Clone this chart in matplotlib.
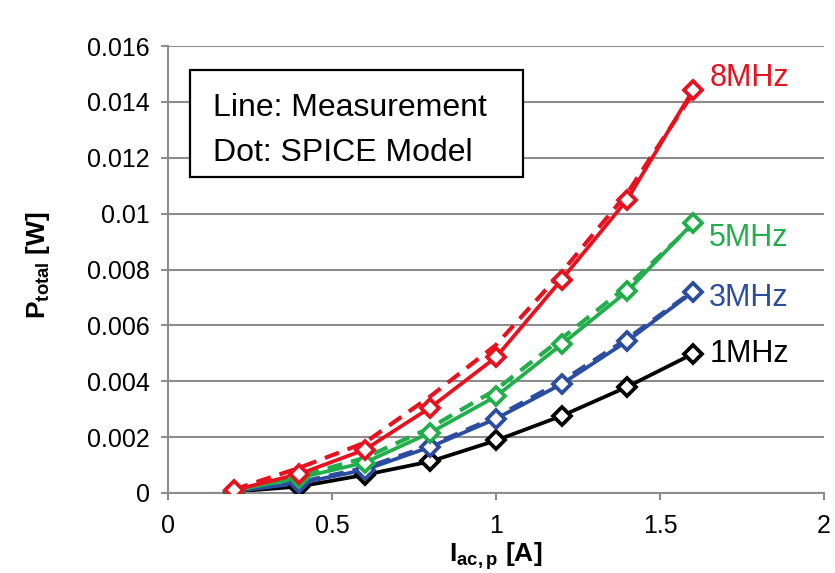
import matplotlib
matplotlib.use("Agg")
import matplotlib.pyplot as plt
from matplotlib.patches import Rectangle

plt.rcParams['font.family'] = ['Liberation Sans', 'DejaVu Sans']
plt.rcParams['mathtext.fontset'] = 'custom'
plt.rcParams['mathtext.rm'] = 'Liberation Sans'
plt.rcParams['mathtext.bf'] = 'Liberation Sans:bold'

# ---- data ----
current = [0.2, 0.4, 0.6, 0.8, 1.0, 1.2, 1.4, 1.6]
freq_labels = ["1MHz", "3MHz", "5MHz", "8MHz"]
# SPICE model (dots, joined by solid line)
spice_1 = [0.00005, 0.00023, 0.00065, 0.00113, 0.00188, 0.00276, 0.00380, 0.00498]
spice_3 = [0.00006, 0.00035, 0.00083, 0.00165, 0.00266, 0.00390, 0.00544, 0.00719]
spice_5 = [0.00008, 0.00054, 0.00109, 0.00216, 0.00346, 0.00532, 0.00722, 0.00966]
spice_8 = [0.00010, 0.00068, 0.00155, 0.00306, 0.00486, 0.00764, 0.01050, 0.01442]
# Measurement (dashed line)
meas_3 = [0.00007, 0.00038, 0.00090, 0.00170, 0.00272, 0.00400, 0.00552, 0.00722]
meas_5 = [0.00010, 0.00060, 0.00126, 0.00234, 0.00370, 0.00553, 0.00740, 0.00960]
meas_8 = [0.00012, 0.00090, 0.00180, 0.00346, 0.00530, 0.00790, 0.01073, 0.01430]
label_y = [0.00497, 0.00697, 0.00913, 0.01487]

y_ticks = [0, 0.002, 0.004, 0.006, 0.008, 0.01, 0.012, 0.014, 0.016]
y_tick_labels = ["0", "0.002", "0.004", "0.006", "0.008", "0.01", "0.012", "0.014", "0.016"]
x_ticks = [0, 0.5, 1, 1.5, 2]
x_tick_labels = ["0", "0.5", "1", "1.5", "2"]

colors = ["#000000", "#2B4DA0", "#22AE4A", "#E8111E"]
spice = [spice_1, spice_3, spice_5, spice_8]
meas = [None, meas_3, meas_5, meas_8]

fig = plt.figure(figsize=(8.35, 5.73), dpi=100)
ax = fig.add_axes([168/835, 1-493/573, (824-168)/835, (493-46)/573])

ax.set_xlim(0, 2)
ax.set_ylim(0, 0.016)
ax.set_yticks(y_ticks)
ax.set_yticklabels(y_tick_labels)
ax.set_xticks(x_ticks)
ax.set_xticklabels(x_tick_labels)
ax.grid(axis='y', color='#8c8c8c', linewidth=1.5, zorder=0)
ax.set_axisbelow(True)
for s in ['top', 'right']:
    ax.spines[s].set_visible(False)
for s in ['left', 'bottom']:
    ax.spines[s].set_color('#8c8c8c')
    ax.spines[s].set_linewidth(1.5)
ax.tick_params(axis='both', colors='#8c8c8c', labelcolor='black', labelsize=18,
               length=5, width=1.5, direction='out')
ax.tick_params(axis='y', pad=8)
ax.tick_params(axis='x', pad=10)

for i, c in enumerate(colors):
    z = 2 + i
    if meas[i] is not None:
        ax.plot(current, meas[i], color=c, linewidth=3, linestyle=(0, (3.6, 2.2)),
                zorder=z)
    ax.plot(current, spice[i], color=c, linewidth=2.7, zorder=z + 0.1)
for i, c in enumerate(colors):
    ax.plot(current, spice[i], linestyle='none', marker='D', markersize=9.5,
            markerfacecolor='white', markeredgecolor=c, markeredgewidth=2.7,
            zorder=10 + i)

for i, c in enumerate(colors):
    ax.text(1.65, label_y[i], freq_labels[i], color=c, fontsize=22,
            ha='left', va='center')

ax.set_ylabel(r'$\mathbf{P}_{\mathbf{total}}$ [W]', fontsize=19, fontweight='bold')
ax.yaxis.set_label_coords(-0.177, 0.51)
fig.text(496/835, 12/573, r'$\mathbf{I}_{\mathbf{ac,p}}$ [A]', fontsize=19,
         fontweight='bold', ha='center', va='baseline')

fig.add_artist(Rectangle((190/835, 1-177/573), (523-190)/835, (177-70)/573,
                         transform=fig.transFigure, facecolor='white',
                         edgecolor='black', linewidth=1.6, zorder=20))
fig.text(213/835, 1-116/573, "Line: Measurement", fontsize=23, va='baseline',
         ha='left', zorder=21)
fig.text(213/835, 1-161/573, "Dot: SPICE Model", fontsize=23, va='baseline',
         ha='left', zorder=21)

fig.savefig("out.png", dpi=100)
